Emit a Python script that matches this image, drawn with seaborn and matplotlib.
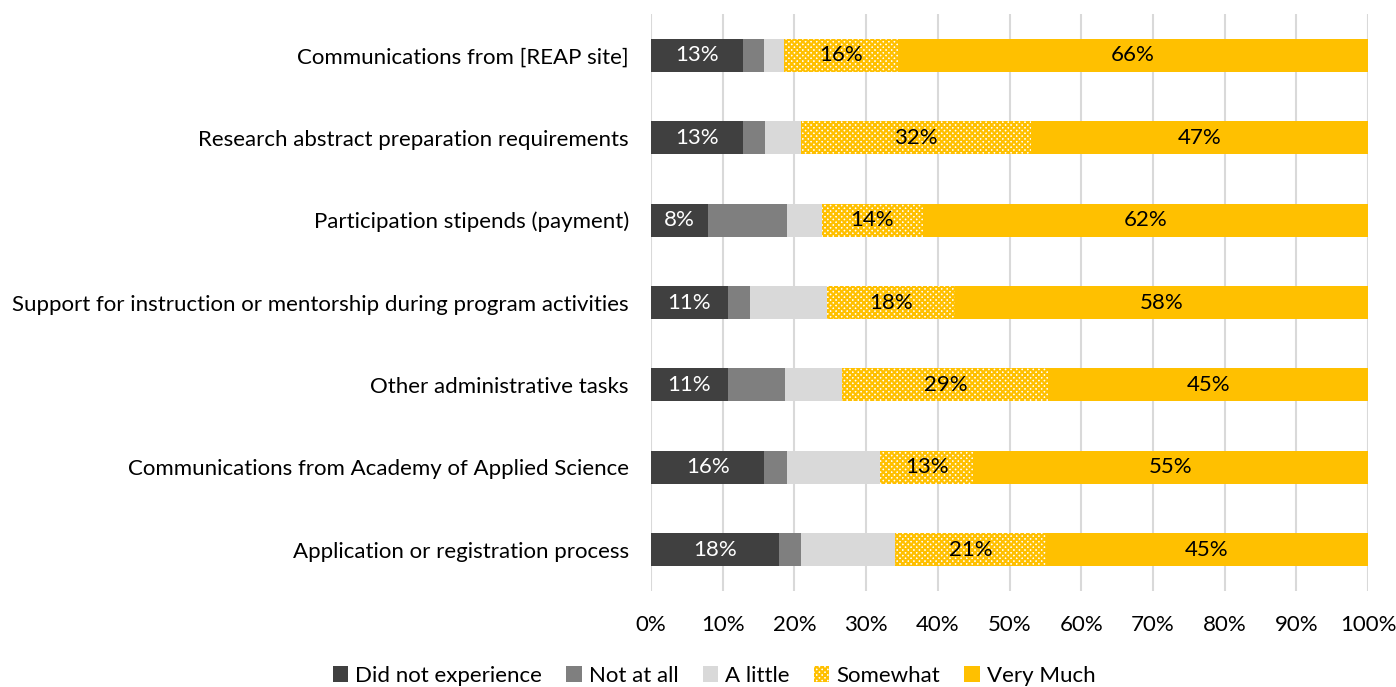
import matplotlib
matplotlib.use("Agg")
import matplotlib.pyplot as plt
import seaborn as sns
import numpy as np
import pandas as pd
from matplotlib.patches import Patch
from matplotlib.ticker import PercentFormatter

categories = [
    "Communications from [REAP site]",
    "Research abstract preparation requirements",
    "Participation stipends (payment)",
    "Support for instruction or mentorship during program activities",
    "Other administrative tasks",
    "Communications from Academy of Applied Science",
    "Application or registration process",
]
series_names = ["Did not experience", "Not at all", "A little", "Somewhat", "Very Much"]
did_not_experience = [12.8, 12.9, 7.9, 10.7, 10.7, 15.8, 17.8]
not_at_all = [2.9, 3.0, 11.0, 3.1, 8.0, 3.1, 3.1]
a_little = [2.9, 5.0, 4.9, 10.8, 8.0, 13.1, 13.2]
somewhat = [15.8, 32.1, 14.1, 17.8, 28.7, 12.9, 21.0]
very_much = [65.6, 47.0, 62.1, 57.6, 44.6, 55.1, 44.9]
labeled_series = ["Did not experience", "Somewhat", "Very Much"]

sns.set_style("white")
plt.rcParams["font.family"] = ["Lato", "DejaVu Sans"]
FS = 16

values = [did_not_experience, not_at_all, a_little, somewhat, very_much]
df = pd.DataFrame({n: v for n, v in zip(series_names, values)}, index=categories)
cum = df.cumsum(axis=1)
starts = cum - df

colors = {"Did not experience": "#404040", "Not at all": "#7F7F7F",
          "A little": "#D9D9D9", "Somewhat": "#FFFFFF", "Very Much": "#FFC000"}
hatches = {"Somewhat": "xxxxxx"}
edges = {"Somewhat": "#FFC000"}
text_colors = {"Did not experience": "white", "Somewhat": "black", "Very Much": "black"}

fig = plt.figure(figsize=(13.96, 6.87), dpi=100)
ax = fig.add_axes([651/1396, 1-591/687, (1368-651)/1396, (591-14)/687])

plt.rcParams["hatch.linewidth"] = 1.6
for name in reversed(series_names):
    sns.barplot(x=cum[name].values, y=categories, orient="h", ax=ax,
                color=colors[name], saturation=1, width=0.4,
                hatch=hatches.get(name, None),
                edgecolor=edges.get(name, colors[name]),
                linewidth=0)

for name in labeled_series:
    for i, cat in enumerate(categories):
        v = df.loc[cat, name]
        ax.text(starts.loc[cat, name] + v/2, i, f"{round(v)}%",
                ha="center", va="center", fontsize=FS, color=text_colors[name])

ax.set_xlim(0, 100)
ax.set_ylim(6.5, -0.5)
ax.set_xticks(np.arange(0, 101, 10))
ax.xaxis.set_major_formatter(PercentFormatter(decimals=0))
ax.grid(axis="x", color="#D9D9D9", linewidth=1.5)
ax.set_axisbelow(True)
for s in ax.spines.values():
    s.set_visible(False)
ax.tick_params(axis="both", length=0, labelsize=FS, colors="black")
ax.tick_params(axis="x", pad=17)
ax.tick_params(axis="y", pad=16)
ax.set_xlabel("")
ax.set_ylabel("")

handles = [Patch(facecolor=colors[n], edgecolor=edges.get(n, colors[n]),
                 hatch=hatches.get(n, None), linewidth=0, label=n)
           for n in series_names]
fig.legend(handles=handles, loc="center", bbox_to_anchor=(714/1396, 1-676/687),
           ncol=5, frameon=False, fontsize=FS, handlelength=0.7, handleheight=0.7,
           handletextpad=0.3, columnspacing=1.1, labelcolor="black")

fig.savefig("out.png", dpi=100)
